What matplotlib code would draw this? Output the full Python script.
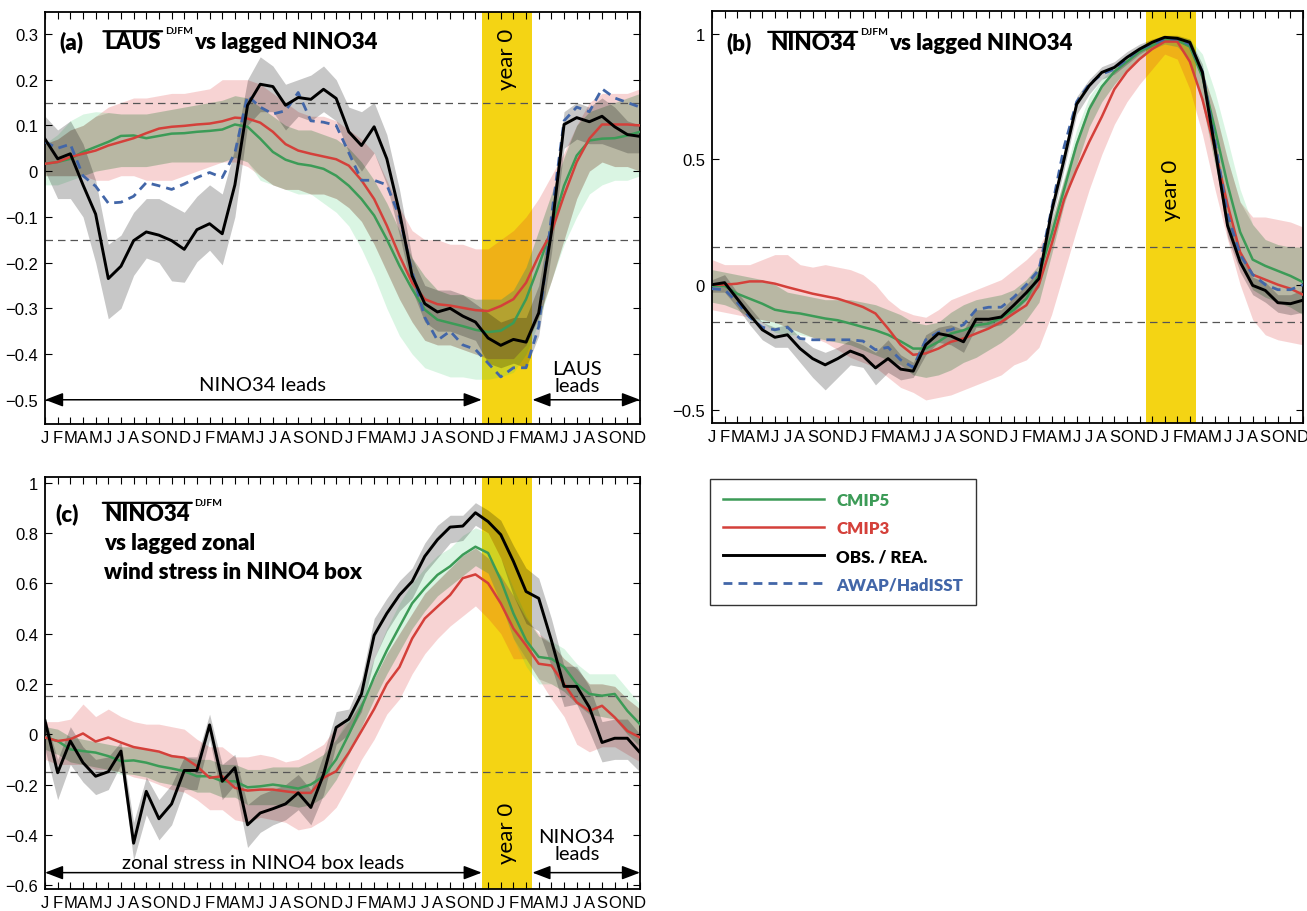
import numpy as np
import matplotlib
matplotlib.use("Agg")
from matplotlib import pyplot as plt
from matplotlib.ticker import FuncFormatter

# ---- data, 48 months: 4 years J..D ----
months = list("JFMAMJJASOND") * 4
x = np.arange(1, 49)

# panel (a): LAUS(DJFM) vs lagged NINO34
a_obs = [0.07, 0.027, 0.038, -0.03, -0.094, -0.235, -0.208, -0.152, -0.133, -0.14, -0.152, -0.171,
         -0.128, -0.115, -0.137, -0.03, 0.144, 0.19, 0.185, 0.144, 0.161, 0.157, 0.179, 0.159,
         0.086, 0.056, 0.097, 0.027, -0.09, -0.229, -0.29, -0.308, -0.3, -0.317, -0.33, -0.365,
         -0.381, -0.368, -0.374, -0.31, -0.134, 0.102, 0.117, 0.108, 0.12, 0.097, 0.08, 0.076]
a_obs_hi = [0.12, 0.09, 0.11, 0.06, -0.02, -0.16, -0.14, -0.09, -0.06, -0.06, -0.075, -0.09,
            -0.055, -0.03, -0.05, 0.05, 0.2, 0.25, 0.23, 0.19, 0.2, 0.21, 0.23, 0.2,
            0.14, 0.13, 0.15, 0.08, -0.04, -0.19, -0.25, -0.26, -0.26, -0.27, -0.29, -0.31,
            -0.33, -0.32, -0.32, -0.25, -0.09, 0.13, 0.15, 0.14, 0.16, 0.14, 0.11, 0.1]
a_obs_lo = [0.0, -0.06, -0.06, -0.1, -0.2, -0.323, -0.3, -0.228, -0.19, -0.2, -0.24, -0.243,
            -0.198, -0.173, -0.205, -0.1, 0.1, 0.13, 0.13, 0.09, 0.12, 0.11, 0.13, 0.11,
            0.04, 0.0, 0.04, -0.03, -0.14, -0.26, -0.33, -0.35, -0.35, -0.36, -0.37, -0.42,
            -0.43, -0.42, -0.43, -0.36, -0.18, 0.05, 0.07, 0.06, 0.06, 0.05, 0.04, 0.04]
a_awap = [0.064, 0.05, 0.059, -0.01, -0.033, -0.07, -0.068, -0.055, -0.025, -0.032, -0.04, -0.028,
          -0.014, -0.003, -0.014, 0.04, 0.165, 0.14, 0.125, 0.132, 0.172, 0.11, 0.107, 0.1,
          0.04, -0.02, -0.02, -0.03, -0.1, -0.22, -0.32, -0.37, -0.35, -0.38, -0.39, -0.42,
          -0.45, -0.43, -0.43, -0.34, -0.1, 0.11, 0.14, 0.13, 0.18, 0.16, 0.15, 0.14]
a_c5 = [0.016, 0.02, 0.027, 0.042, 0.053, 0.064, 0.077, 0.078, 0.072, 0.077, 0.082, 0.083,
        0.086, 0.088, 0.091, 0.102, 0.097, 0.071, 0.042, 0.025, 0.016, 0.012, 0.005, -0.01,
        -0.032, -0.061, -0.097, -0.149, -0.207, -0.258, -0.303, -0.325, -0.332, -0.339, -0.347, -0.352,
        -0.349, -0.332, -0.28, -0.207, -0.127, -0.032, 0.034, 0.067, 0.071, 0.072, 0.078, 0.086]
a_c5_hi = [0.06, 0.08, 0.11, 0.125, 0.13, 0.128, 0.125, 0.125, 0.125, 0.13, 0.135, 0.14,
           0.145, 0.15, 0.155, 0.165, 0.16, 0.14, 0.12, 0.1, 0.09, 0.09, 0.08, 0.07,
           0.05, 0.02, -0.02, -0.07, -0.13, -0.19, -0.23, -0.26, -0.27, -0.27, -0.28, -0.28,
           -0.28, -0.26, -0.21, -0.13, -0.05, 0.03, 0.1, 0.13, 0.14, 0.15, 0.16, 0.17]
a_c5_lo = [-0.03, -0.03, -0.02, -0.01, 0.0, 0.005, 0.01, 0.01, 0.01, 0.015, 0.02, 0.02,
           0.02, 0.02, 0.02, 0.03, 0.02, -0.02, -0.03, -0.04, -0.05, -0.05, -0.07, -0.09,
           -0.12, -0.17, -0.23, -0.3, -0.36, -0.4, -0.43, -0.44, -0.45, -0.45, -0.455, -0.455,
           -0.45, -0.44, -0.4, -0.33, -0.24, -0.16, -0.1, -0.05, -0.03, -0.02, -0.02, -0.01]
a_c3 = [0.016, 0.02, 0.031, 0.038, 0.045, 0.056, 0.064, 0.072, 0.083, 0.093, 0.097, 0.099,
        0.102, 0.104, 0.109, 0.117, 0.115, 0.106, 0.086, 0.059, 0.045, 0.038, 0.032, 0.026,
        0.012, -0.02, -0.061, -0.119, -0.185, -0.244, -0.28, -0.291, -0.294, -0.299, -0.304, -0.306,
        -0.295, -0.28, -0.244, -0.185, -0.134, -0.053, 0.02, 0.071, 0.102, 0.102, 0.102, 0.1]
a_c3_hi = [0.06, 0.07, 0.09, 0.1, 0.12, 0.14, 0.15, 0.16, 0.16, 0.165, 0.17, 0.17,
           0.175, 0.18, 0.2, 0.2, 0.2, 0.19, 0.17, 0.15, 0.13, 0.12, 0.12, 0.11,
           0.09, 0.07, 0.04, -0.02, -0.08, -0.13, -0.15, -0.15, -0.16, -0.16, -0.17, -0.17,
           -0.15, -0.13, -0.1, -0.06, -0.01, 0.04, 0.1, 0.15, 0.17, 0.17, 0.17, 0.18]
a_c3_lo = [-0.01, -0.01, -0.01, -0.01, -0.02, -0.02, -0.01, -0.01, -0.02, -0.02, -0.02, -0.01,
           0.0, 0.01, 0.02, 0.02, 0.01, -0.01, -0.03, -0.04, -0.04, -0.05, -0.05, -0.06,
           -0.08, -0.11, -0.16, -0.22, -0.28, -0.33, -0.37, -0.38, -0.38, -0.39, -0.4, -0.41,
           -0.41, -0.41, -0.38, -0.32, -0.24, -0.15, -0.06, 0.0, 0.02, 0.01, 0.01, 0.0]

# panel (b): NINO34(DJFM) vs lagged NINO34
b_obs = [0.0, 0.008, -0.056, -0.12, -0.18, -0.21, -0.2, -0.255, -0.295, -0.32, -0.295, -0.265,
         -0.284, -0.332, -0.295, -0.337, -0.345, -0.24, -0.195, -0.205, -0.228, -0.138, -0.138, -0.129,
         -0.082, -0.032, 0.024, 0.29, 0.5, 0.72, 0.794, 0.847, 0.867, 0.907, 0.94, 0.967,
         0.987, 0.983, 0.967, 0.847, 0.542, 0.236, 0.09, -0.003, -0.023, -0.072, -0.076, -0.062]
b_obs_hi = [0.02, 0.04, -0.03, -0.09, -0.15, -0.17, -0.16, -0.21, -0.25, -0.27, -0.25, -0.22,
            -0.24, -0.27, -0.22, -0.28, -0.31, -0.2, -0.17, -0.16, -0.18, -0.1, -0.1, -0.1,
            -0.05, 0.0, 0.06, 0.32, 0.53, 0.75, 0.82, 0.87, 0.89, 0.93, 0.96, 0.98,
            0.995, 0.995, 0.98, 0.88, 0.59, 0.28, 0.13, 0.03, 0.01, -0.04, -0.04, -0.02]
b_obs_lo = [-0.03, -0.03, -0.09, -0.16, -0.22, -0.25, -0.25, -0.31, -0.37, -0.42, -0.37, -0.32,
            -0.33, -0.4, -0.35, -0.38, -0.37, -0.28, -0.23, -0.24, -0.27, -0.17, -0.17, -0.16,
            -0.11, -0.06, -0.01, 0.25, 0.46, 0.68, 0.76, 0.82, 0.84, 0.88, 0.92, 0.95,
            0.975, 0.97, 0.95, 0.81, 0.5, 0.19, 0.05, -0.04, -0.07, -0.11, -0.12, -0.11]
b_hadisst = [-0.016, -0.02, -0.07, -0.13, -0.17, -0.18, -0.17, -0.215, -0.22, -0.22, -0.22, -0.22,
             -0.225, -0.26, -0.25, -0.3, -0.33, -0.22, -0.19, -0.18, -0.16, -0.1, -0.09, -0.09,
             -0.05, 0.0, 0.06, 0.3, 0.55, 0.73, 0.8, 0.84, 0.86, 0.9, 0.94, 0.96,
             0.98, 0.98, 0.96, 0.85, 0.57, 0.28, 0.12, 0.04, 0.0, -0.02, -0.02, 0.0]
b_c5 = [-0.005, -0.005, -0.036, -0.056, -0.076, -0.1, -0.109, -0.115, -0.125, -0.135, -0.142, -0.155,
        -0.169, -0.182, -0.2, -0.226, -0.255, -0.255, -0.228, -0.195, -0.182, -0.162, -0.155, -0.133,
        -0.1, -0.056, 0.04, 0.2, 0.38, 0.56, 0.7, 0.79, 0.85, 0.89, 0.93, 0.955,
        0.975, 0.975, 0.95, 0.83, 0.62, 0.4, 0.21, 0.1, 0.075, 0.055, 0.035, 0.01]
b_c5_hi = [0.06, 0.05, 0.04, 0.03, 0.02, 0.0, -0.03, -0.04, -0.05, -0.06, -0.06, -0.06,
           -0.07, -0.08, -0.1, -0.12, -0.15, -0.16, -0.15, -0.11, -0.08, -0.06, -0.05, -0.04,
           -0.02, 0.02, 0.08, 0.25, 0.43, 0.62, 0.75, 0.82, 0.87, 0.91, 0.94, 0.97,
           0.99, 0.99, 0.98, 0.92, 0.77, 0.58, 0.38, 0.24, 0.18, 0.16, 0.15, 0.15]
b_c5_lo = [-0.07, -0.08, -0.1, -0.13, -0.15, -0.19, -0.2, -0.2, -0.21, -0.22, -0.23, -0.24,
           -0.26, -0.28, -0.3, -0.32, -0.36, -0.37, -0.36, -0.34, -0.31, -0.29, -0.26, -0.23,
           -0.19, -0.14, -0.07, 0.12, 0.32, 0.48, 0.63, 0.73, 0.8, 0.86, 0.9, 0.94,
           0.96, 0.95, 0.9, 0.72, 0.48, 0.25, 0.08, -0.02, -0.05, -0.07, -0.09, -0.12]
b_c3 = [0.0, 0.0, 0.004, 0.013, 0.013, 0.004, -0.01, -0.023, -0.036, -0.046, -0.056, -0.072,
        -0.089, -0.115, -0.175, -0.24, -0.28, -0.274, -0.255, -0.228, -0.215, -0.195, -0.175, -0.149,
        -0.115, -0.082, 0.0, 0.16, 0.34, 0.46, 0.57, 0.67, 0.78, 0.85, 0.9, 0.94,
        0.97, 0.97, 0.89, 0.74, 0.54, 0.32, 0.13, 0.04, 0.02, 0.0, -0.016, -0.04]
b_c3_hi = [0.1, 0.08, 0.08, 0.08, 0.1, 0.12, 0.12, 0.08, 0.07, 0.08, 0.07, 0.06,
           0.04, 0.0, -0.06, -0.1, -0.12, -0.13, -0.1, -0.06, -0.04, -0.02, 0.0, 0.02,
           0.06, 0.1, 0.15, 0.25, 0.42, 0.58, 0.72, 0.8, 0.86, 0.9, 0.93, 0.96,
           0.98, 0.98, 0.95, 0.85, 0.7, 0.5, 0.33, 0.27, 0.27, 0.26, 0.25, 0.23]
b_c3_lo = [-0.1, -0.11, -0.12, -0.13, -0.14, -0.15, -0.17, -0.19, -0.21, -0.23, -0.26, -0.29,
           -0.31, -0.33, -0.37, -0.41, -0.43, -0.46, -0.45, -0.44, -0.42, -0.4, -0.38, -0.36,
           -0.32, -0.3, -0.25, -0.12, 0.05, 0.22, 0.38, 0.52, 0.64, 0.73, 0.8, 0.86,
           0.92, 0.9, 0.78, 0.6, 0.38, 0.18, 0.0, -0.14, -0.2, -0.22, -0.23, -0.24]

# panel (c): NINO34(DJFM) vs lagged zonal wind stress in NINO4 box
c_obs = [0.053, -0.153, -0.027, -0.113, -0.167, -0.149, -0.067, -0.433, -0.227, -0.336, -0.277, -0.144,
         -0.144, 0.037, -0.187, -0.133, -0.36, -0.313, -0.296, -0.277, -0.233, -0.291, -0.16, 0.027,
         0.06, 0.16, 0.393, 0.48, 0.553, 0.607, 0.707, 0.773, 0.823, 0.827, 0.88, 0.845,
         0.793, 0.687, 0.567, 0.54, 0.373, 0.19, 0.19, 0.107, -0.033, -0.016, -0.016, -0.073]
c_obs_hi = [0.07, -0.1, 0.03, -0.05, -0.1, -0.09, -0.03, -0.35, -0.17, -0.26, -0.2, -0.09,
            -0.09, 0.08, -0.12, -0.08, -0.28, -0.24, -0.22, -0.2, -0.16, -0.22, -0.08, 0.09,
            0.1, 0.22, 0.46, 0.54, 0.61, 0.66, 0.76, 0.83, 0.87, 0.87, 0.92, 0.89,
            0.85, 0.75, 0.66, 0.62, 0.46, 0.27, 0.27, 0.19, 0.05, 0.06, 0.06, 0.0]
c_obs_lo = [-0.06, -0.26, -0.12, -0.19, -0.24, -0.22, -0.12, -0.5, -0.32, -0.42, -0.36, -0.22,
            -0.22, -0.02, -0.26, -0.2, -0.45, -0.39, -0.36, -0.34, -0.3, -0.36, -0.24, -0.04,
            0.0, 0.09, 0.3, 0.41, 0.49, 0.54, 0.64, 0.7, 0.76, 0.77, 0.83, 0.8,
            0.7, 0.55, 0.44, 0.41, 0.27, 0.11, 0.12, 0.01, -0.11, -0.1, -0.1, -0.15]
c_c5 = [-0.013, -0.027, -0.06, -0.067, -0.073, -0.087, -0.107, -0.104, -0.113, -0.127, -0.136, -0.147,
        -0.167, -0.167, -0.187, -0.187, -0.211, -0.207, -0.2, -0.207, -0.216, -0.2, -0.167, -0.1,
        0.0, 0.107, 0.227, 0.333, 0.427, 0.52, 0.58, 0.633, 0.667, 0.713, 0.745, 0.72,
        0.613, 0.48, 0.373, 0.307, 0.3, 0.267, 0.2, 0.16, 0.153, 0.16, 0.093, 0.04]
c_c5_hi = [0.03, 0.02, -0.01, -0.02, -0.03, -0.04, -0.05, -0.05, -0.06, -0.07, -0.08, -0.09,
           -0.1, -0.1, -0.12, -0.12, -0.14, -0.14, -0.13, -0.13, -0.13, -0.11, -0.08, -0.02,
           0.07, 0.17, 0.3, 0.42, 0.52, 0.6, 0.66, 0.71, 0.74, 0.79, 0.82, 0.8,
           0.7, 0.58, 0.47, 0.39, 0.37, 0.34, 0.28, 0.24, 0.24, 0.24, 0.18, 0.12]
c_c5_lo = [-0.06, -0.08, -0.11, -0.12, -0.13, -0.14, -0.16, -0.16, -0.17, -0.19, -0.2, -0.21,
           -0.23, -0.23, -0.25, -0.25, -0.28, -0.28, -0.28, -0.28, -0.29, -0.28, -0.25, -0.18,
           -0.08, 0.03, 0.14, 0.24, 0.33, 0.42, 0.49, 0.55, 0.59, 0.63, 0.67, 0.64,
           0.52, 0.38, 0.27, 0.2, 0.2, 0.17, 0.12, 0.08, 0.07, 0.06, 0.0, -0.05]
c_c3 = [-0.013, -0.027, -0.02, 0.003, -0.029, -0.013, -0.033, -0.051, -0.06, -0.069, -0.087, -0.093,
        -0.127, -0.173, -0.167, -0.213, -0.224, -0.22, -0.22, -0.227, -0.233, -0.233, -0.173, -0.147,
        -0.073, 0.013, 0.1, 0.2, 0.267, 0.38, 0.46, 0.507, 0.553, 0.62, 0.635, 0.6,
        0.52, 0.42, 0.353, 0.28, 0.273, 0.2, 0.127, 0.093, 0.113, 0.067, 0.013, -0.013]
c_c3_hi = [0.05, 0.05, 0.06, 0.12, 0.07, 0.1, 0.07, 0.05, 0.04, 0.04, 0.03, 0.02,
           -0.02, -0.05, -0.05, -0.09, -0.09, -0.08, -0.09, -0.11, -0.1, -0.07, -0.04, 0.03,
           0.05, 0.13, 0.22, 0.32, 0.4, 0.48, 0.56, 0.61, 0.66, 0.71, 0.74, 0.7,
           0.63, 0.55, 0.46, 0.4, 0.36, 0.3, 0.26, 0.2, 0.2, 0.19, 0.14, 0.1]
c_c3_lo = [-0.1, -0.12, -0.12, -0.12, -0.14, -0.14, -0.15, -0.17, -0.18, -0.2, -0.22, -0.23,
           -0.26, -0.3, -0.3, -0.34, -0.35, -0.33, -0.34, -0.35, -0.38, -0.37, -0.34, -0.29,
           -0.2, -0.1, -0.02, 0.08, 0.14, 0.24, 0.32, 0.38, 0.43, 0.47, 0.51, 0.46,
           0.4, 0.3, 0.3, 0.22, 0.14, 0.07, -0.04, -0.07, -0.05, -0.05, -0.08, -0.11]

# ---- style ----
GREEN = "#3c9b57"
RED = "#d4403a"
BLUE = "#4266a8"
YELLOW = "#f4d414"
TITLE_FONT = ["Lato", "DejaVu Sans"]
TITLE_W = "heavy"
plt.rcParams["font.family"] = ["Liberation Sans", "DejaVu Sans"]

fig = plt.figure(figsize=(13.07, 9.12), dpi=100)
W, H = 1307.0, 912.0


def px_axes(l, t, r, b):
    return fig.add_axes([l / W, 1 - b / H, (r - l) / W, (b - t) / H])


ax_a = px_axes(45, 13, 640, 425)
ax_b = px_axes(712, 12, 1303, 424)
ax_c = px_axes(45, 478, 640, 890)


def ylab(v, _):
    if abs(v) < 1e-9:
        return "0"
    return ("%g" % round(v, 2)).replace("-", "\u2212")


fmt = FuncFormatter(ylab)


def draw_panel(ax, obs, obs_lo, obs_hi, c5, c5_lo, c5_hi, c3, c3_lo, c3_hi, dashed=None):
    ax.axvspan(35.5, 39.5, color=YELLOW, lw=0, zorder=0)
    c3_lo, c3_hi = np.array(c3_lo), np.array(c3_hi)
    c5_lo, c5_hi = np.array(c5_lo), np.array(c5_hi)
    ax.fill_between(x, c3_lo, c3_hi, color=(0.86, 0.15, 0.15), alpha=0.2, lw=0, zorder=1)
    ax.fill_between(x, c5_lo, c5_hi, color=(0.2, 0.8, 0.4), alpha=0.18, lw=0, zorder=1)
    # darker tint where the two model ranges overlap
    lo = np.maximum(c3_lo, c5_lo)
    hi = np.minimum(c3_hi, c5_hi)
    ax.fill_between(x, lo, hi, where=hi > lo, interpolate=True,
                    color=(0.42, 0.42, 0.32), alpha=0.25, lw=0, zorder=1)
    ax.fill_between(x, obs_lo, obs_hi, color="black", alpha=0.22, lw=0, zorder=2)
    for yy in (0.15, -0.15):
        ax.axhline(yy, color="#555555", lw=0.9, dashes=(6, 4), zorder=2)
    lines = []
    lines += ax.plot(x, c5, color=GREEN, lw=1.8, zorder=4, label="CMIP5")
    lines += ax.plot(x, c3, color=RED, lw=1.8, zorder=4, label="CMIP3")
    lines += ax.plot(x, obs, color="black", lw=2.1, zorder=5, label="OBS. / REA.")
    if dashed is not None:
        lines += ax.plot(x, dashed, color=BLUE, lw=2.0, dashes=(3.2, 2.2), zorder=4,
                         label="AWAP/HadISST")
    ax.set_xlim(1, 48)
    ax.set_xticks(x)
    ax.set_xticklabels(months)
    ax.yaxis.set_major_formatter(fmt)
    ax.tick_params(direction="in", length=5, width=0.8, top=True, right=True,
                   labelsize=12, pad=5)
    ax.tick_params(axis="x", pad=4)
    for sp in ax.spines.values():
        sp.set_linewidth(1.3)
    return lines


def overline_title(ax, tag, name, rest, xy_tag, xy_name):
    ax.text(*xy_tag, tag, transform=ax.transAxes, fontsize=16, fontweight=TITLE_W,
            family=TITLE_FONT, va="baseline", zorder=6)
    t = ax.text(*xy_name, name, transform=ax.transAxes, fontsize=16, fontweight=TITLE_W,
                family=TITLE_FONT, va="baseline", zorder=6)
    ax.annotate("", xy=(-0.02, 1.0), xycoords=t, xytext=(1.02, 1.0), textcoords=t,
                arrowprops=dict(arrowstyle="-", lw=1.6, color="black", shrinkA=0, shrinkB=0))
    ax.annotate("DJFM", xy=(1.0, 1.0), xycoords=t, xytext=(3, -3), textcoords="offset points",
                fontsize=7.5, fontweight="bold", family=TITLE_FONT, va="bottom", ha="left")
    if rest:
        ax.annotate(rest, xy=(1.0, 0.0), xycoords=t, xytext=(24, 0), textcoords="offset points",
                    fontsize=16, fontweight=TITLE_W, family=TITLE_FONT, va="bottom", ha="left")
    return t


def lead_arrows(ax, y, left_text, right_text, y_lt, y_rt):
    style = "<|-|>,head_length=1.1,head_width=0.42"
    ax.annotate("", xy=(1, y), xytext=(35.5, y),
                arrowprops=dict(arrowstyle=style, lw=1.1, color="black", shrinkA=0, shrinkB=0),
                zorder=6)
    ax.annotate("", xy=(39.5, y), xytext=(48, y),
                arrowprops=dict(arrowstyle=style, lw=1.1, color="black", shrinkA=0, shrinkB=0),
                zorder=6)
    ax.text(18.2, y_lt, left_text, ha="center", va="center", fontsize=14.5, family=TITLE_FONT)
    ax.text(43.0, y_rt, right_text, ha="center", va="center", fontsize=14.5, family=TITLE_FONT,
            linespacing=1.05)


# (a)
handles = draw_panel(ax_a, a_obs, a_obs_lo, a_obs_hi, a_c5, a_c5_lo, a_c5_hi,
                     a_c3, a_c3_lo, a_c3_hi, dashed=a_awap)
ax_a.set_ylim(-0.553, 0.348)
ax_a.set_yticks(np.arange(-0.5, 0.31, 0.1))
overline_title(ax_a, "(a)", "LAUS", "vs lagged NINO34", (0.025, 0.912), (0.1, 0.912))
ax_a.text(37.5, 0.246, "year 0", rotation=90, ha="center", va="center", fontsize=16,
          family=TITLE_FONT, zorder=6)
lead_arrows(ax_a, -0.5, "NINO34 leads", "LAUS\nleads", -0.467, -0.45)

# (b)
draw_panel(ax_b, b_obs, b_obs_lo, b_obs_hi, b_c5, b_c5_lo, b_c5_hi,
           b_c3, b_c3_lo, b_c3_hi, dashed=b_hadisst)
ax_b.set_ylim(-0.552, 1.092)
ax_b.set_yticks([-0.5, 0, 0.5, 1])
overline_title(ax_b, "(b)", "NINO34", "vs lagged NINO34", (0.025, 0.908), (0.098, 0.908))
ax_b.text(37.5, 0.38, "year 0", rotation=90, ha="center", va="center", fontsize=16,
          family=TITLE_FONT, zorder=6)

# (c)
draw_panel(ax_c, c_obs, c_obs_lo, c_obs_hi, c_c5, c_c5_lo, c_c5_hi, c_c3, c_c3_lo, c_c3_hi)
ax_c.set_ylim(-0.615, 1.022)
ax_c.set_yticks(np.arange(-0.6, 1.01, 0.2))
overline_title(ax_c, "(c)", "NINO34", None, (0.018, 0.896), (0.1, 0.896))
ax_c.text(0.1, 0.826, "vs lagged zonal", transform=ax_c.transAxes, fontsize=16,
          fontweight=TITLE_W, family=TITLE_FONT, va="baseline")
ax_c.text(0.1, 0.756, "wind stress in NINO4 box", transform=ax_c.transAxes, fontsize=16,
          fontweight=TITLE_W, family=TITLE_FONT, va="baseline")
ax_c.text(37.5, -0.39, "year 0", rotation=90, ha="center", va="center", fontsize=16,
          family=TITLE_FONT, zorder=6)
lead_arrows(ax_c, -0.55, "zonal stress in NINO4 box leads", "NINO34\nleads", -0.51, -0.44)

# legend box
leg = fig.legend(handles, [h.get_label() for h in handles], loc="upper left",
                 bbox_to_anchor=(710 / W, 1 - 480 / H), frameon=True, fancybox=False,
                 edgecolor="black", handlelength=6.0, handletextpad=0.7, labelspacing=0.72,
                 borderpad=0.75, borderaxespad=0, labelcolor="linecolor",
                 prop=dict(family=TITLE_FONT, weight=TITLE_W, size=12.2))
leg.get_frame().set_linewidth(1.0)

fig.savefig("out.png", dpi=100)
